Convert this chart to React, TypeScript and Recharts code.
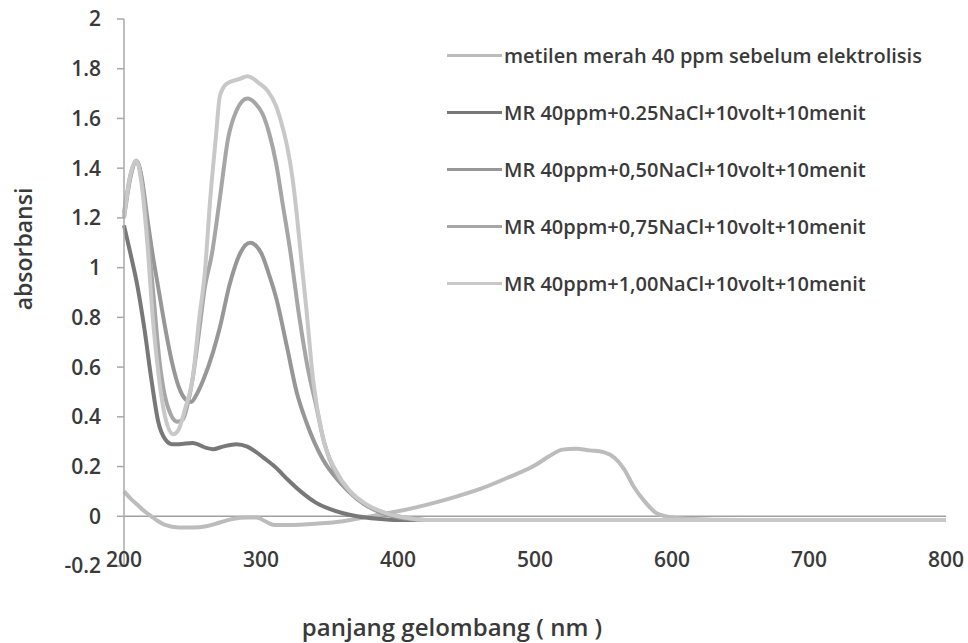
import React from 'react';
import { LineChart, Line, XAxis, YAxis, ReferenceLine } from 'recharts';

// wavelength (nm) / absorbance pairs
const sebelum: [number, number][] = [
  [200, 0.1], [205, 0.07], [210, 0.045], [215, 0.02], [220, 0.0], [225, -0.02], [230, -0.035],
  [240, -0.045], [250, -0.045], [260, -0.04], [270, -0.025], [280, -0.01], [290, -0.005],
  [297, -0.005], [303, -0.02], [310, -0.035], [320, -0.035], [340, -0.03], [360, -0.02],
  [375, -0.005], [385, 0.005], [400, 0.02], [420, 0.045], [440, 0.075], [460, 0.11],
  [480, 0.155], [500, 0.205], [510, 0.24], [520, 0.268], [530, 0.272], [540, 0.265],
  [550, 0.258], [558, 0.235], [565, 0.19], [572, 0.12], [580, 0.06], [588, 0.015],
  [595, 0.0], [610, -0.01], [650, -0.015], [700, -0.015], [750, -0.015], [800, -0.015],
];

const nacl025: [number, number][] = [
  [200, 1.17], [205, 1.05], [210, 0.92], [215, 0.75], [220, 0.55], [225, 0.38], [230, 0.31],
  [235, 0.29], [240, 0.29], [250, 0.295], [260, 0.275], [265, 0.27], [272, 0.28], [282, 0.29],
  [290, 0.28], [296, 0.26], [302, 0.235], [310, 0.2], [320, 0.145], [330, 0.095], [340, 0.055],
  [350, 0.03], [360, 0.012], [370, 0.0], [385, -0.01], [400, -0.015], [500, -0.015],
  [600, -0.015], [700, -0.015], [800, -0.015],
];

const nacl050: [number, number][] = [
  [200, 1.2], [205, 1.37], [209, 1.43], [213, 1.36], [217, 1.2], [221, 1.05], [225, 0.92],
  [230, 0.76], [235, 0.62], [240, 0.52], [245, 0.47], [249, 0.46], [253, 0.49], [258, 0.55],
  [265, 0.66], [270, 0.76], [277, 0.93], [285, 1.06], [292, 1.1], [300, 1.06], [306, 0.97],
  [311, 0.88], [319, 0.68], [326, 0.5], [333, 0.38], [345, 0.23], [357, 0.14], [370, 0.07],
  [385, 0.02], [400, -0.005], [420, -0.015], [500, -0.015], [600, -0.015], [800, -0.015],
];

const nacl075: [number, number][] = [
  [200, 1.22], [205, 1.38], [209, 1.43], [213, 1.35], [217, 1.15], [221, 0.92], [226, 0.62],
  [232, 0.44], [239, 0.38], [243, 0.39], [246, 0.44], [250, 0.55], [255, 0.75], [259, 0.92],
  [264, 1.05], [270, 1.28], [276, 1.52], [282, 1.63], [290, 1.68], [296, 1.66], [301, 1.62],
  [306, 1.54], [311, 1.42], [316, 1.25], [321, 1.08], [328, 0.8], [334, 0.6], [340, 0.45],
  [346, 0.3], [355, 0.17], [365, 0.1], [375, 0.05], [390, 0.015], [405, -0.005],
  [420, -0.015], [600, -0.015], [800, -0.015],
];

const nacl100: [number, number][] = [
  [200, 1.2], [205, 1.38], [209, 1.43], [213, 1.33], [217, 1.1], [221, 0.8], [225, 0.58],
  [230, 0.4], [236, 0.33], [240, 0.35], [245, 0.44], [250, 0.55], [255, 0.8], [259, 0.98],
  [263, 1.28], [267, 1.52], [270, 1.69], [275, 1.74], [285, 1.76], [290, 1.77], [299, 1.74],
  [305, 1.71], [311, 1.65], [315, 1.58], [319, 1.49], [323, 1.36], [326, 1.22], [330, 1.0],
  [333, 0.84], [338, 0.55], [345, 0.32], [355, 0.18], [365, 0.1], [375, 0.055], [390, 0.015],
  [405, -0.005], [420, -0.015], [600, -0.015], [800, -0.015],
];

const seriesNames = [
  'metilen merah 40 ppm sebelum elektrolisis',
  'MR 40ppm+0.25NaCl+10volt+10menit',
  'MR 40ppm+0,50NaCl+10volt+10menit',
  'MR 40ppm+0,75NaCl+10volt+10menit',
  'MR 40ppm+1,00NaCl+10volt+10menit',
];
const seriesColors = ['#bcbcbc', '#787878', '#979797', '#a6a6a6', '#c8c8c8'];
const seriesData = [sebelum, nacl025, nacl050, nacl075, nacl100];

const xTicks = [200, 300, 400, 500, 600, 700, 800];
const yTicks = [-0.2, 0, 0.2, 0.4, 0.6, 0.8, 1, 1.2, 1.4, 1.6, 1.8, 2];

const FONT = '"Open Sans", Lato, sans-serif';
const TEXT = '#3a3a3a';

const XTick = ({ x, y, payload }: any) => (
  <text x={x} y={y - 7} textAnchor="middle" dominantBaseline="central" fill={TEXT}
    fontSize={21} fontWeight={600} fontFamily={FONT}>
    {payload.value}
  </text>
);

// legend drawn as an overlay so it doesn't take space from the plot
const LegendBox = () => (
  <div style={{ position: 'absolute', left: 447, top: 27, fontFamily: FONT, fontSize: 20, fontWeight: 600, color: TEXT }}>
    {seriesNames.map((name, i) => (
      <div key={name} style={{ display: 'flex', alignItems: 'center', height: 57 }}>
        <div style={{ width: 55, height: 3, background: seriesColors[i], marginRight: 2 }} />
        <span style={{ whiteSpace: 'nowrap' }}>{name}</span>
      </div>
    ))}
  </div>
);

export default function App() {
  return (
    <div style={{ position: 'absolute', left: 0, top: 0, width: 968, height: 643, background: '#fff' }}>
      <LineChart width={968} height={643} margin={{ top: 19, right: 22, bottom: 0, left: 0 }}>
        <XAxis
          type="number"
          dataKey="x"
          domain={[200, 800]}
          ticks={xTicks}
          axisLine={false}
          tickLine={false}
          tickSize={0}
          tickMargin={0}
          height={77}
          tick={<XTick />}
          allowDuplicatedCategory={false}
        />
        <YAxis
          type="number"
          domain={[-0.2, 2]}
          ticks={yTicks}
          width={124}
          stroke="#a8a8a8"
          strokeWidth={1.5}
          tickSize={7}
          tickMargin={16}
          tick={{ fill: TEXT, fontSize: 21, fontWeight: 600, fontFamily: FONT }}
          tickFormatter={(v: number) => String(v)}
        />
        <ReferenceLine y={0} stroke="#a0a0a0" strokeWidth={1.5} />
        {seriesData.map((d, i) => (
          <Line
            key={seriesNames[i]}
            data={d.map(([x, y]) => ({ x, y }))}
            dataKey="y"
            name={seriesNames[i]}
            type="monotone"
            stroke={seriesColors[i]}
            strokeWidth={4}
            dot={false}
            isAnimationActive={false}
          />
        ))}
        <text x={23} y={249} transform="rotate(-90 23 249)" textAnchor="middle" dominantBaseline="central"
          fill={TEXT} fontSize={23} fontWeight={600} fontFamily={FONT}>
          absorbansi
        </text>
        <text x={452} y={626} textAnchor="middle" dominantBaseline="central"
          fill={TEXT} fontSize={24} fontWeight={600} fontFamily={FONT}>
          panjang gelombang ( nm )
        </text>
      </LineChart>
      <LegendBox />
    </div>
  );
}
